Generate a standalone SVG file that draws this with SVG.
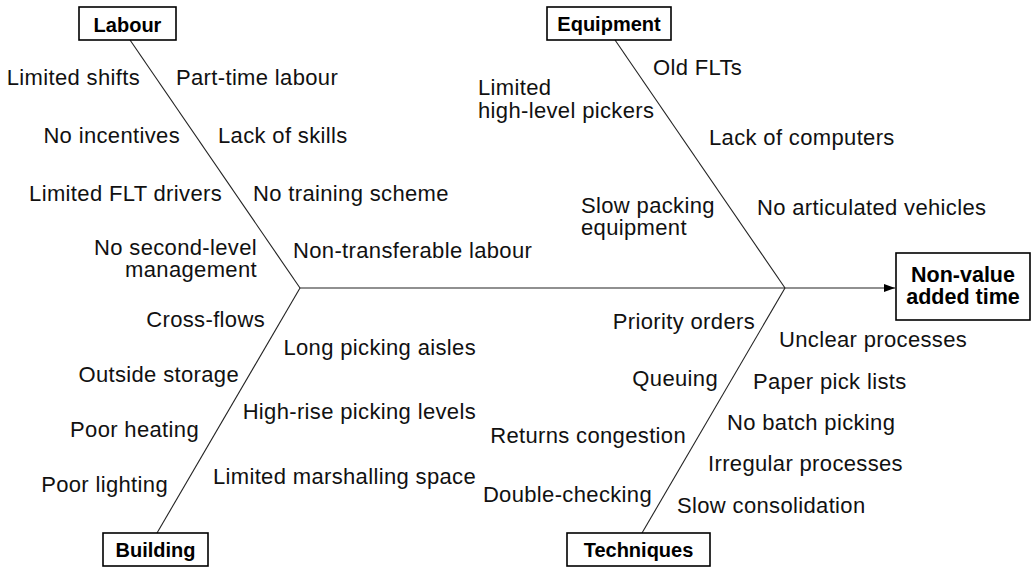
<svg xmlns="http://www.w3.org/2000/svg" width="1032" height="567" viewBox="0 0 1032 567">
<style>
.box{fill:#fff;stroke:#000;stroke-width:1.6}
.bt{font-family:"Liberation Sans",Arial,sans-serif;font-weight:bold;font-size:20px;fill:#000;text-anchor:middle}
.big{font-size:21.5px}
.t{font-family:"Liberation Sans",Arial,sans-serif;font-size:22px;letter-spacing:0.35px;fill:#111}
.e{text-anchor:end}
.ln{stroke:#222;stroke-width:1.1;fill:none}
</style>
<defs>
<marker id="ah" markerWidth="12" markerHeight="10" refX="11" refY="5" orient="auto" markerUnits="userSpaceOnUse">
<path d="M0,1 L11,5 L0,9 Z" fill="#000"/>
</marker>
</defs>
<g id="connectors">
<line class="ln" x1="300" y1="288" x2="895" y2="288" marker-end="url(#ah)"/>
<line class="ln" x1="130" y1="40" x2="300" y2="288"/>
<line class="ln" x1="157" y1="533" x2="300" y2="288"/>
<line class="ln" x1="615" y1="40" x2="785" y2="288"/>
<line class="ln" x1="642" y1="533" x2="785" y2="288"/>
</g>
<g id="labour">
<rect class="box" x="79" y="7" width="97" height="33"/>
<text class="bt" x="127.5" y="32">Labour</text>
</g>
<g id="equipment">
<rect class="box" x="547" y="7" width="124" height="33"/>
<text class="bt" x="609" y="31">Equipment</text>
</g>
<g id="building">
<rect class="box" x="103" y="533" width="105" height="33"/>
<text class="bt" x="155.5" y="557">Building</text>
</g>
<g id="techniques">
<rect class="box" x="567" y="533" width="143" height="33"/>
<text class="bt" x="638.5" y="557">Techniques</text>
</g>
<g id="effect">
<rect class="box" x="896" y="253" width="134" height="67"/>
<text class="bt big" x="963" y="282">Non-value</text>
<text class="bt big" x="963" y="304">added time</text>
</g>
<g id="labour-causes">
<text class="t e" x="140" y="85">Limited shifts</text>
<text class="t e" x="180" y="143">No incentives</text>
<text class="t e" x="222" y="201">Limited FLT drivers</text>
<text class="t e" x="257" y="255">No second-level</text>
<text class="t e" x="257" y="277">management</text>
<text class="t" x="176" y="85">Part-time labour</text>
<text class="t" x="218" y="143">Lack of skills</text>
<text class="t" x="253" y="201">No training scheme</text>
<text class="t" x="293" y="258">Non-transferable labour</text>
</g>
<g id="building-causes">
<text class="t e" x="265" y="327">Cross-flows</text>
<text class="t e" x="239" y="382">Outside storage</text>
<text class="t e" x="199" y="437">Poor heating</text>
<text class="t e" x="168" y="492">Poor lighting</text>
<text class="t e" x="476" y="355">Long picking aisles</text>
<text class="t e" x="476" y="419">High-rise picking levels</text>
<text class="t e" x="476" y="484">Limited marshalling space</text>
</g>
<g id="equipment-causes">
<text class="t" x="653" y="75">Old FLTs</text>
<text class="t" x="478" y="95">Limited</text>
<text class="t" x="478" y="118">high-level pickers</text>
<text class="t" x="709" y="145">Lack of computers</text>
<text class="t" x="581" y="213">Slow packing</text>
<text class="t" x="581" y="235">equipment</text>
<text class="t" x="757" y="215">No articulated vehicles</text>
</g>
<g id="technique-causes">
<text class="t e" x="755" y="329">Priority orders</text>
<text class="t e" x="718" y="386">Queuing</text>
<text class="t e" x="686" y="443">Returns congestion</text>
<text class="t e" x="652" y="502">Double-checking</text>
<text class="t" x="779" y="347">Unclear processes</text>
<text class="t" x="753" y="389">Paper pick lists</text>
<text class="t" x="727" y="430">No batch picking</text>
<text class="t" x="708" y="471">Irregular processes</text>
<text class="t" x="677" y="513">Slow consolidation</text>
</g>
</svg>
